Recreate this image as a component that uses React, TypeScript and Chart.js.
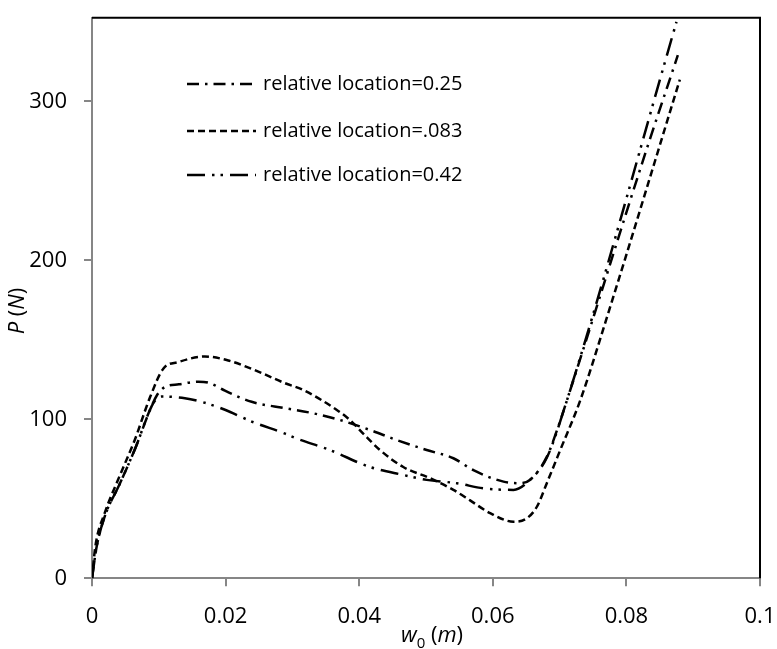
import React, { useEffect, useRef } from "react";
import { Chart, registerables } from "chart.js";

Chart.register(...registerables);

// ---- Data ----
const seriesLabels = ["relative location=0.25", "relative location=.083", "relative location=0.42"];

const w025 = [0, 0.0007, 0.002, 0.004, 0.0065, 0.0085, 0.0097, 0.011, 0.013, 0.0159, 0.0175, 0.0199, 0.0239, 0.0289, 0.0331, 0.0371, 0.0416, 0.0456, 0.0501, 0.0541, 0.0571, 0.0616, 0.0641, 0.0656, 0.0681, 0.0696, 0.0711, 0.083, 0.0877];
const p025 = [0, 20, 40, 58, 82, 104, 115, 120.5, 122, 123.7, 123, 118, 111, 107, 103.8, 99.6, 93.3, 87, 80.7, 75.5, 68, 60.8, 59.8, 62, 76.5, 93, 112, 269.5, 329];

const w083 = [0, 0.0005, 0.0019, 0.0039, 0.0064, 0.0087, 0.0107, 0.0129, 0.0169, 0.0204, 0.0249, 0.0289, 0.0316, 0.0366, 0.0386, 0.0406, 0.0431, 0.0466, 0.0506, 0.0541, 0.0566, 0.0596, 0.0631, 0.0651, 0.0666, 0.0681, 0.0701, 0.0731, 0.077, 0.088];
const p083 = [0, 20, 41, 62, 87, 114, 132, 136, 139.5, 137, 130, 122.7, 118.5, 106, 99.6, 91, 80.7, 70, 63, 55.6, 49, 41, 35.6, 37.8, 45, 60, 80.7, 112, 163, 313.6];

const w042 = [0, 0.0007, 0.002, 0.004, 0.0065, 0.0089, 0.0097, 0.0104, 0.0139, 0.0164, 0.0199, 0.0239, 0.0289, 0.0306, 0.0356, 0.0416, 0.0466, 0.0501, 0.0546, 0.0586, 0.0631, 0.0656, 0.0681, 0.0708, 0.0875];
const p042 = [0, 20, 40, 58, 82, 108, 113, 114.3, 113.3, 111, 106, 98.6, 91, 88, 80.7, 70, 65, 61.9, 59.8, 56.6, 55.6, 62, 76, 108, 350];

const xTicks = [0, 0.02, 0.04, 0.06, 0.08, 0.1];
const xTickLabels = ["0", "0.02", "0.04", "0.06", "0.08", "0.1"];
const yTicks = [0, 100, 200, 300];
const yTickLabels = ["0", "100", "200", "300"];

const dashes = [
  [12, 6, 2.5, 6],
  [7, 4],
  [18, 7, 2.5, 6, 2.5, 7],
];

const FONT = "'Open Sans', sans-serif";

function pts(ws: number[], ps: number[]) {
  return ws.map((w, i) => ({ x: w, y: ps[i] }));
}

const overlay = {
  id: "overlay",
  afterDraw(chart: any) {
    const { ctx, chartArea } = chart;
    const { left, top, right, bottom } = chartArea;
    ctx.save();
    // top & right black border
    ctx.strokeStyle = "#000";
    ctx.lineWidth = 2;
    ctx.setLineDash([]);
    ctx.beginPath();
    ctx.moveTo(left, top);
    ctx.lineTo(right, top);
    ctx.lineTo(right, bottom);
    ctx.stroke();

    // legend
    const ys = [84, 131, 175];
    chart.data.datasets.forEach((ds: any, i: number) => {
      ctx.strokeStyle = "#000";
      ctx.lineWidth = 2.5;
      ctx.setLineDash(ds.borderDash || []);
      ctx.beginPath();
      ctx.moveTo(187, ys[i]);
      ctx.lineTo(256, ys[i]);
      ctx.stroke();
      ctx.setLineDash([]);
      ctx.fillStyle = "#000";
      ctx.font = `20px ${FONT}`;
      ctx.textAlign = "left";
      ctx.textBaseline = "middle";
      ctx.fillText(ds.label, 263, ys[i]);
    });

    // x-axis title: w0 (m)
    ctx.fillStyle = "#000";
    ctx.textBaseline = "alphabetic";
    ctx.textAlign = "left";
    const parts: [string, string, number][] = [
      ["w", `italic 22px ${FONT}`, 0],
      ["0", `15px ${FONT}`, 6],
      [" (", `22px ${FONT}`, 0],
      ["m", `italic 22px ${FONT}`, 0],
      [")", `22px ${FONT}`, 0],
    ];
    let total = 0;
    parts.forEach(([t, f]) => {
      ctx.font = f;
      total += ctx.measureText(t).width;
    });
    let x = 432 - total / 2;
    parts.forEach(([t, f, dy]) => {
      ctx.font = f;
      ctx.fillText(t, x, 642 + dy);
      x += ctx.measureText(t).width;
    });

    // y-axis title: P (N)
    ctx.save();
    ctx.translate(24, 311);
    ctx.rotate(-Math.PI / 2);
    const yparts: [string, string][] = [
      ["P", `italic 22px ${FONT}`],
      [" (", `22px ${FONT}`],
      ["N", `italic 22px ${FONT}`],
      [")", `22px ${FONT}`],
    ];
    let yt = 0;
    yparts.forEach(([t, f]) => {
      ctx.font = f;
      yt += ctx.measureText(t).width;
    });
    let yx = -yt / 2;
    yparts.forEach(([t, f]) => {
      ctx.font = f;
      ctx.fillText(t, yx, 0);
      yx += ctx.measureText(t).width;
    });
    ctx.restore();

    ctx.restore();
  },
};

export default function App() {
  const ref = useRef<HTMLCanvasElement | null>(null);

  useEffect(() => {
    document.body.style.margin = "0";
    if (!ref.current) return;
    const mk = (i: number, ws: number[], ps: number[]) => ({
      label: seriesLabels[i],
      data: pts(ws, ps),
      borderColor: "#000",
      backgroundColor: "#000",
      borderWidth: 2.5,
      borderDash: dashes[i],
      pointRadius: 0,
      fill: false,
      cubicInterpolationMode: "monotone" as const,
    });
    const chart = new Chart(ref.current, {
      type: "line",
      data: {
        datasets: [mk(0, w025, p025), mk(1, w083, p083), mk(2, w042, p042)],
      },
      options: {
        animation: false,
        responsive: false,
        maintainAspectRatio: false,
        layout: { padding: { left: 0, top: 17.7, right: 17, bottom: 0 } },
        plugins: { legend: { display: false }, tooltip: { enabled: false } },
        scales: {
          x: {
            type: "linear",
            min: 0,
            max: 0.1,
            afterBuildTicks: (s: any) => {
              s.ticks = xTicks.map((v) => ({ value: v }));
            },
            afterFit: (s: any) => {
              s.height = 649 - 578.3;
              s.paddingLeft = 0;
              s.paddingRight = 0;
              s.paddingTop = 0;
              s.paddingBottom = 0;
            },
            ticks: {
              callback: (_v: any, i: number) => xTickLabels[i],
              color: "#000",
              font: { family: FONT, size: 22 },
              padding: 17,
              maxRotation: 0,
            },
            grid: { drawOnChartArea: false, drawTicks: true, tickLength: 8, color: "#868686", lineWidth: 2 },
            border: { display: true, color: "#868686", width: 2 },
          },
          y: {
            type: "linear",
            min: 0,
            max: 352.6,
            afterBuildTicks: (s: any) => {
              s.ticks = yTicks.map((v) => ({ value: v }));
            },
            afterFit: (s: any) => {
              s.width = 92;
              s.paddingLeft = 0;
              s.paddingRight = 0;
              s.paddingTop = 0;
              s.paddingBottom = 0;
            },
            ticks: {
              callback: (_v: any, i: number) => yTickLabels[i],
              color: "#000",
              font: { family: FONT, size: 22 },
              padding: 17,
            },
            grid: { drawOnChartArea: false, drawTicks: true, tickLength: 8, color: "#868686", lineWidth: 2 },
            border: { display: true, color: "#868686", width: 2 },
          },
        },
      },
      plugins: [overlay],
    });
    return () => chart.destroy();
  }, []);

  return (
    <div style={{ width: 777, height: 649 }}>
      <canvas ref={ref} width={777} height={649} style={{ display: "block" }} />
    </div>
  );
}
